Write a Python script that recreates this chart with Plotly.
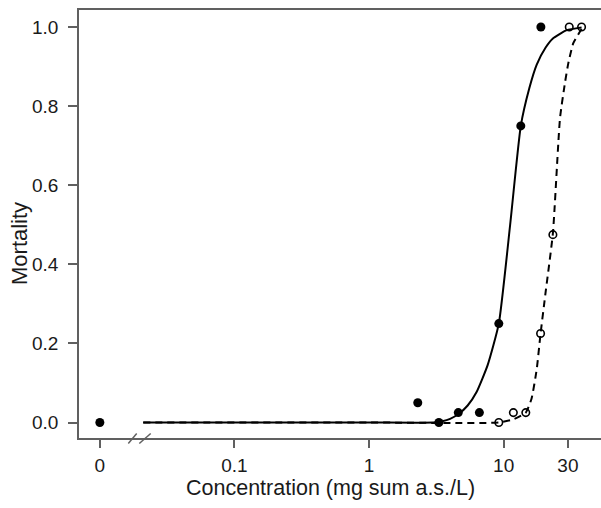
import plotly.graph_objects as go

# ---- data ----
conc_filled = [0, 2.3, 3.3, 4.6, 6.6, 9.2, 13.4, 18.9]
mort_filled = [0.0, 0.05, 0.0, 0.025, 0.025, 0.25, 0.75, 1.0]

conc_open = [9.2, 11.8, 14.6, 18.8, 23.2, 30.7, 37.9]
mort_open = [0.0, 0.025, 0.025, 0.225, 0.475, 1.0, 1.0]

# fitted curves
solid_x = [0.021, 1.0, 3.0, 3.5, 4.0, 4.64, 5.4, 6.29, 7.6, 9.2, 11.17, 13.4, 15.5, 17.6, 20.5, 23.2, 29.4, 37.9]
solid_y = [0.0, 0.0, 0.0, 0.003, 0.009, 0.022, 0.043, 0.077, 0.145, 0.25, 0.5, 0.75, 0.845, 0.905, 0.948, 0.971, 0.992, 0.999]

dash_x = [0.021, 1.0, 9.2, 11.8, 14.6, 16.1, 17.6, 18.8, 20.5, 23.2, 26.2, 28.5, 30.2, 32.9, 37.9]
dash_y = [0.0, 0.0, 0.0, 0.008, 0.025, 0.06, 0.135, 0.225, 0.33, 0.478, 0.769, 0.858, 0.908, 0.959, 0.995]

tick_vals = [0.01, 0.1, 1, 10, 30]
tick_text = ["0", "0.1", "1", "10", "30"]
y_ticks = [0.0, 0.2, 0.4, 0.6, 0.8, 1.0]

ZERO_POS = 0.01  # where concentration 0 is drawn on the broken log axis
FONT = "Liberation Sans, Arial, sans-serif"
AXCOL = "#606060"

fx = [ZERO_POS if c == 0 else c for c in conc_filled]

fig = go.Figure()
fig.add_trace(go.Scatter(x=solid_x, y=solid_y, mode="lines",
                         line=dict(color="black", width=2, shape="spline", smoothing=0.5),
                         hoverinfo="skip", showlegend=False))
fig.add_trace(go.Scatter(x=dash_x, y=dash_y, mode="lines",
                         line=dict(color="black", width=2, dash="7px,5px", shape="spline", smoothing=0.5),
                         hoverinfo="skip", showlegend=False))
fig.add_trace(go.Scatter(x=fx, y=mort_filled, mode="markers",
                         marker=dict(symbol="circle", size=9, color="black"),
                         showlegend=False))
fig.add_trace(go.Scatter(x=conc_open, y=mort_open, mode="markers",
                         marker=dict(symbol="circle-open", size=7.5, color="black",
                                     line=dict(width=1.6, color="black")),
                         showlegend=False))

W, H = 601, 508
L, R, T, B = 79, 0, 10, 70

fig.update_layout(
    width=W, height=H,
    margin=dict(l=L, r=R, t=T, b=B),
    paper_bgcolor="white", plot_bgcolor="white",
    font=dict(family=FONT, color="#1a1a1a", size=19),
    xaxis=dict(type="log", range=[-2.155, 1.723],
               tickvals=tick_vals, ticktext=tick_text,
               ticks="outside", ticklen=8, tickwidth=1.5, tickcolor=AXCOL,
               showline=True, linecolor=AXCOL, linewidth=1.5, mirror=True,
               showgrid=False, zeroline=False,
               tickfont=dict(size=19, family=FONT, color="#1a1a1a"),
               ticklabelstandoff=1),
    yaxis=dict(range=[-0.0392, 1.0430],
               tickvals=y_ticks, ticktext=[f"{v:.1f}" for v in y_ticks],
               ticks="outside", ticklen=9, tickwidth=1.5, tickcolor=AXCOL,
               showline=True, linecolor=AXCOL, linewidth=1.5, mirror=False,
               showgrid=False, zeroline=False,
               tickfont=dict(size=19, family=FONT, color="#1a1a1a"),
               ticklabelstandoff=6),
)

fig.add_annotation(text="Mortality", xref="paper", yref="paper",
                   x=(19 - L) / 522, y=(438 - 244) / 428, textangle=-90,
                   showarrow=False, xanchor="center", yanchor="middle",
                   font=dict(size=22, family=FONT, color="#1a1a1a"))
fig.add_annotation(text="Concentration (mg sum a.s./L)", xref="paper", yref="paper",
                   x=(330.5 - L) / 522, y=(438 - 488) / 428,
                   showarrow=False, xanchor="center", yanchor="middle",
                   font=dict(size=21.5, family=FONT, color="#1a1a1a"))

# axis break marks "//"
for x0, x1 in [(128.3, 136.7), (139.3, 150.7)]:
    fig.add_shape(type="line", xref="paper", yref="paper",
                  x0=(x0 - L) / 522, x1=(x1 - L) / 522,
                  y0=(438 - 443.5) / 428, y1=(438 - 433.5) / 428,
                  line=dict(color=AXCOL, width=1.5))

fig.write_html("out.html")
